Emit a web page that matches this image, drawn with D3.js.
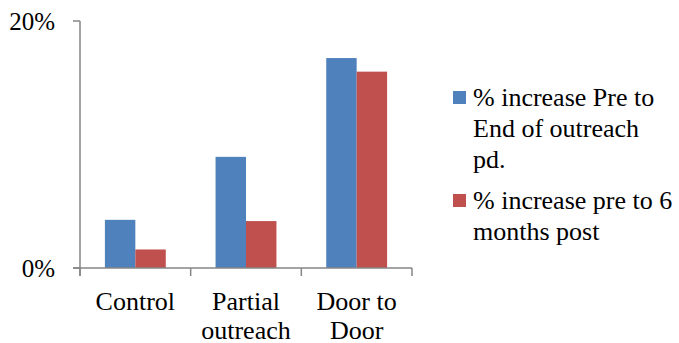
<!DOCTYPE html>
<html><head><meta charset="utf-8">
<script src="https://cdn.jsdelivr.net/npm/d3@7"></script>
</head><body style="margin:0"><svg id="c" width="679" height="343" style="display:block"></svg>
<script>
const categories = [["Control"], ["Partial", "outreach"], ["Door to", "Door"]];
const seriesNames = ["% increase Pre to End of outreach pd.", "% increase pre to 6 months post"];
const seriesA = [0.039, 0.090, 0.170];
const seriesB = [0.015, 0.038, 0.159];
const yTicks = [0, 0.2];
const legendLines = [["% increase Pre to", "End of outreach", "pd."], ["% increase pre to 6", "months post"]];
const colors = ["#4f81bd", "#c0504d"];

const FONT = "Liberation Serif";
const svg = d3.select("#c");
const x0 = 80, x1 = 412, yTop = 21, yBot = 268;
const x = d3.scaleBand().domain(d3.range(categories.length)).range([x0, x1]).paddingInner(0).paddingOuter(0);
const bw = x.bandwidth();
const inner = d3.scaleBand().domain([0,1]).range([bw*0.225, bw*0.775]);
const y = d3.scaleLinear().domain([0, 0.2]).range([yBot, yTop]);

const axisColor = "#868686";
svg.append("line").attr("x1", x0).attr("x2", x0).attr("y1", yTop).attr("y2", yBot+8).attr("stroke", axisColor).attr("stroke-width", 1.5);
yTicks.forEach(t => {
  svg.append("line").attr("x1", x0-7).attr("x2", x0).attr("y1", y(t)).attr("y2", y(t)).attr("stroke", axisColor).attr("stroke-width", 1.5);
  svg.append("text").attr("font-family", FONT).attr("font-size", 25).attr("x", 55).attr("y", y(t)+9).attr("text-anchor", "end").text(d3.format(".0%")(t));
});
[seriesA, seriesB].forEach((s, si) => {
  svg.selectAll(null).data(s).enter().append("rect")
    .attr("x", (d,i) => x(i) + inner(si)).attr("width", inner.bandwidth())
    .attr("y", d => y(d)).attr("height", d => yBot - y(d)).attr("fill", colors[si]);
});
svg.append("line").attr("x1", x0-7).attr("x2", x1).attr("y1", yBot).attr("y2", yBot).attr("stroke", axisColor).attr("stroke-width", 1.5);
d3.range(categories.length+1).forEach(i => {
  const xx = i < categories.length ? x(i) : x1;
  svg.append("line").attr("x1", xx).attr("x2", xx).attr("y1", yBot).attr("y2", yBot+8).attr("stroke", axisColor).attr("stroke-width", 1.5);
});
categories.forEach((c, i) => {
  c.forEach((line, j) => svg.append("text").attr("font-family", FONT).attr("font-size", 26)
    .attr("text-anchor", "middle").attr("x", x(i)+bw/2).attr("y", 310 + j*29).text(line));
});
const legY = [106, 209];
legendLines.forEach((lines, si) => {
  svg.append("rect").attr("x", 453).attr("y", legY[si]-15).attr("width", 13).attr("height", 13).attr("fill", colors[si]);
  lines.forEach((line, j) => svg.append("text").attr("font-family", FONT).attr("font-size", 26)
    .attr("x", 473).attr("y", legY[si] + j*31).text(line));
});
</script></body></html>
